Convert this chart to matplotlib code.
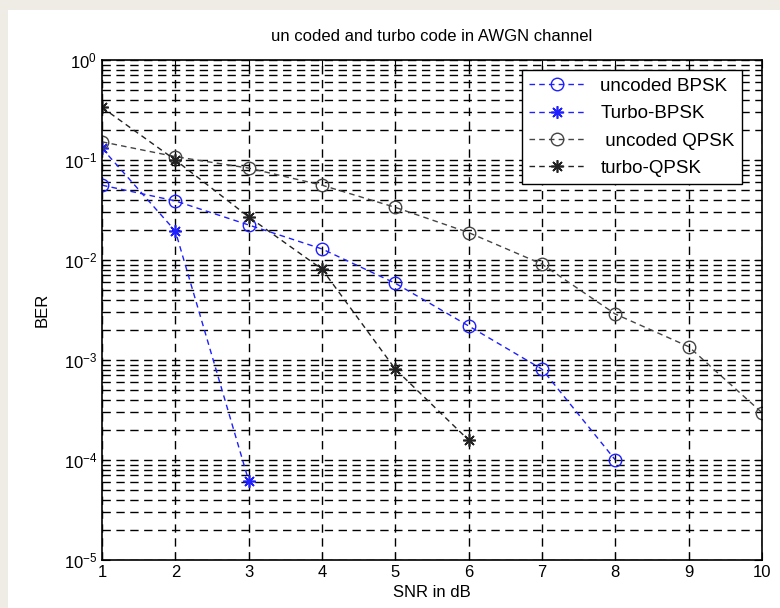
import matplotlib
matplotlib.use('Agg')
import matplotlib.pyplot as plt
from matplotlib.patches import Rectangle
from matplotlib.ticker import LogLocator, NullFormatter

plt.rcParams['font.family'] = ['Liberation Sans', 'DejaVu Sans']
plt.rcParams['mathtext.default'] = 'regular'

# Данные
snr = [1, 2, 3, 4, 5, 6, 7, 8, 9, 10]
ber_uncoded_bpsk = [0.056, 0.039, 0.0224, 0.0129, 0.00585, 0.00219, 8.1e-4, 1.0e-4]
ber_turbo_bpsk = [0.131, 0.0195, 6.2e-5]
ber_uncoded_qpsk = [0.152, 0.108, 0.083, 0.056, 0.0336, 0.0188, 0.0091, 0.00288, 0.00136, 2.97e-4]
ber_turbo_qpsk = [0.336, 0.1, 0.027, 0.0081, 8.1e-4, 1.58e-4]

labels = ['uncoded BPSK', 'Turbo-BPSK', ' uncoded QPSK', 'turbo-QPSK']

# звёздочка как в MATLAB: 8 лучей
asterisk = (8, 2, 0)

fig = plt.figure(figsize=(7.8, 6.08), dpi=100)
fig.patch.set_facecolor('#eeece4')
# белая "панель" внутри серой рамки
fig.add_artist(Rectangle((8 / 780, 0), 1, 1 - 10 / 608, transform=fig.transFigure,
                         facecolor='white', edgecolor='none', zorder=-10))

ax = fig.add_axes([102 / 780, 48 / 608, 660 / 780, 500 / 608])

ax.semilogy(snr[:len(ber_uncoded_bpsk)], ber_uncoded_bpsk, '--', marker='o', color='#1f1fff',
            lw=1.0, ms=9, mfc='none', mew=1.0, dashes=(4, 3), label=labels[0])
ax.semilogy(snr[:len(ber_turbo_bpsk)], ber_turbo_bpsk, '--', marker=asterisk, color='#1f1fff',
            lw=1.0, ms=9, mew=1.2, dashes=(4, 3), label=labels[1])
ax.semilogy(snr, ber_uncoded_qpsk, '--', marker='o', color='#444444',
            lw=1.0, ms=9, mfc='none', mew=1.0, dashes=(4, 3), label=labels[2])
ax.semilogy(snr[:len(ber_turbo_qpsk)], ber_turbo_qpsk, '--', marker=asterisk, color='#222222',
            lw=1.0, ms=9, mew=1.2, dashes=(4, 3), label=labels[3])

ax.set_xlim(1, 10)
ax.set_ylim(1e-5, 1)
ax.set_xticks(snr)
ax.yaxis.set_major_locator(LogLocator(base=10, numticks=10))
ax.yaxis.set_minor_locator(LogLocator(base=10, subs=range(2, 10), numticks=20))
ax.yaxis.set_minor_formatter(NullFormatter())

# сетка как в MATLAB
ax.set_axisbelow(True)
ax.grid(True, which='major', axis='both', color='black', lw=1.0, linestyle=(0, (6, 4)))
ax.grid(True, which='minor', axis='y', color='black', lw=1.0, linestyle=(0, (6, 4)))
ax.tick_params(which='both', direction='in', top=True, right=True, labelsize=12)
ax.tick_params(which='major', length=6)
ax.tick_params(which='minor', length=3)
for s in ax.spines.values():
    s.set_linewidth(1.2)

ax.set_title('un coded and turbo code in AWGN channel', fontsize=12, pad=14)
ax.set_xlabel('SNR in dB', fontsize=12, labelpad=4)
ax.set_ylabel('BER', fontsize=12, labelpad=10)

leg = ax.legend(loc='upper right', fontsize=13.5, fancybox=False, framealpha=1,
                edgecolor='black', handlelength=3, labelspacing=0.55,
                borderaxespad=0.0, bbox_to_anchor=(0.97, 0.98))
leg.get_frame().set_linewidth(1.0)

fig.savefig('out.png', dpi=100, facecolor=fig.get_facecolor())
